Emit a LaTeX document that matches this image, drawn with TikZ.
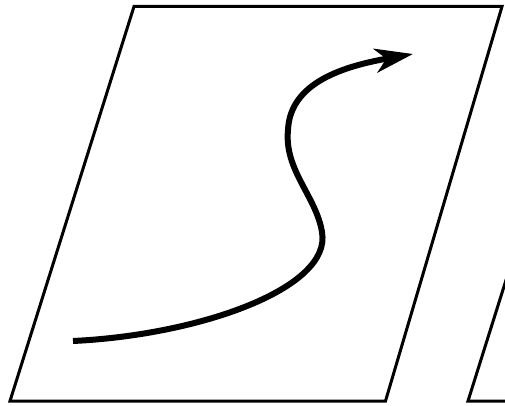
\documentclass[tikz,border=0pt]{standalone}
\usepackage{tikz}
\usetikzlibrary{arrows.meta}
\tikzset{
  panel/.style={
    draw=black,
    line width=3pt,
    line join=miter
  },
  flow/.style={
    -{Stealth[length=38pt, width=24pt, inset=11pt]},
    line width=6pt
  }
}

\begin{document}
\begin{tikzpicture}[x=1pt, y=-1pt]
    \clip (0,0) rectangle (505,406);
    \draw[panel] (134,6.5) -- (502,6.5) -- (385.5,401) -- (10,401) -- cycle;
    \draw[panel, xshift=458pt] (134,6.5) -- (502,6.5) -- (385.5,401) -- (10,401) -- cycle;

    \coordinate (start) at (73,341);
    \coordinate (bend1) at (322,232);
    \coordinate (bend2) at (288,130);
    \coordinate (tip) at (413,54);

    \draw[flow] (start) .. controls (200,335) and (332,288) .. (bend1)
        .. controls (316,196) and (284,170) .. (bend2)
        .. controls (290,82) and (345,66) .. (tip);
\end{tikzpicture}
\end{document}
